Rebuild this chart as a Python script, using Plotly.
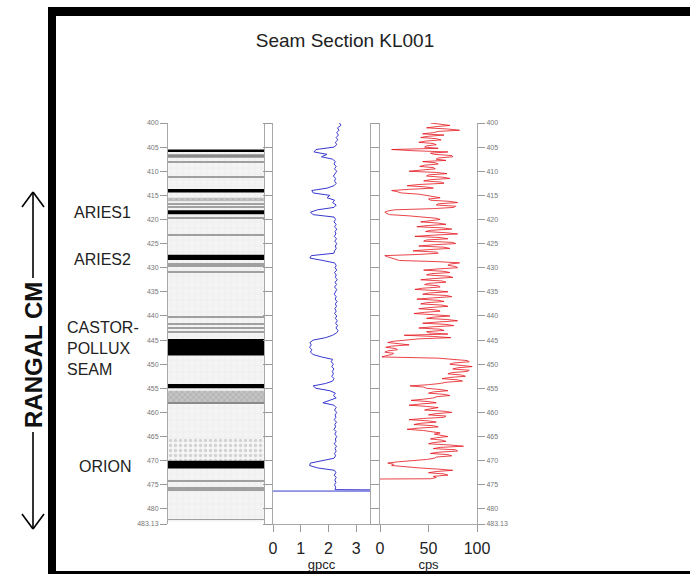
import plotly.graph_objects as go

W, H = 690, 574


def px(x):
    return x / W


def py(y):
    return 1 - y / H


FONT = "Liberation Sans, Arial, sans-serif"

# ---------------- data ----------------
DEPTH_TOP, DEPTH_BASE = 400.0, 483.13
DEPTH_TICKS = [400, 405, 410, 415, 420, 425, 430, 435, 440, 445, 450, 455,
               460, 465, 470, 475, 480, 483.13]
DEPTH_TICK_TEXT = ["400", "405", "410", "415", "420", "425", "430", "435", "440",
                   "445", "450", "455", "460", "465", "470", "475", "480", "483.13"]

# lithology intervals (top, base, type)
LITH_TOP = [405.5, 406.0, 406.5, 407.2, 413.7, 414.4, 415.5, 416.2, 418.1, 418.9,
            427.3, 428.4, 444.8, 448.2, 454.1, 455.0, 455.5, 457.9, 458.2, 465.5,
            470.0, 471.6]
LITH_BASE = [406.0, 406.5, 407.2, 413.7, 414.4, 415.5, 416.2, 418.1, 418.9, 427.3,
             428.4, 444.8, 448.2, 454.1, 455.0, 455.5, 457.9, 458.2, 465.5, 470.0,
             471.6, 482.6]
LITH_TYPE = ["coal", "shale", "stone", "shale", "coal", "shale", "band", "shale",
             "coal", "shale", "coal", "shale", "coal", "shale", "coal", "shale",
             "band", "stone", "shale", "sand", "coal", "shale"]
PARTING_DEPTHS = [408.0, 411.1, 416.8, 417.4, 419.6, 423.3, 429.2, 429.6, 430.9,
                  440.3, 441.6, 442.5, 443.4, 474.2, 475.7, 476.1, 482.2]
PARTING_THICKNESS = 0.2

# density log (gpcc), sampled every 0.5 m from 400 m
DENSITY_START, DENSITY_STEP = 400.0, 0.5
DENSITY_GPCC = [
    2.40, 2.45, 2.33, 2.38, 2.30, 2.36, 2.28, 2.34, 2.25, 2.30,
    2.20, 1.55, 1.48, 1.95, 1.75, 2.15, 2.25, 2.20, 2.28, 2.22,
    2.30, 2.24, 2.18, 2.26, 2.22, 2.28, 2.20, 1.95, 1.40, 1.45,
    2.05, 1.95, 2.22, 2.15, 2.28, 2.20, 1.60, 1.35, 1.45, 2.20,
    2.26, 2.20, 2.28, 2.22, 2.30, 2.24, 2.27, 2.21, 2.29, 2.23,
    2.30, 2.25, 2.28, 2.22, 2.20, 1.38, 1.33, 1.80, 2.22, 2.28,
    2.24, 2.30, 2.22, 2.28, 2.25, 2.32, 2.24, 2.29, 2.22, 2.30,
    2.26, 2.21, 2.28, 2.24, 2.31, 2.25, 2.29, 2.23, 2.28, 2.22,
    2.30, 2.25, 2.32, 2.26, 2.33, 2.27, 2.35, 2.30, 2.15, 1.90,
    1.45, 1.33, 1.38, 1.32, 1.40, 1.35, 1.45, 1.75, 2.15, 2.10,
    2.18, 2.12, 2.20, 2.14, 2.18, 2.12, 2.20, 2.15, 1.90, 1.45,
    1.55, 2.05, 2.25, 2.18, 2.28, 2.05, 1.80, 2.20, 2.28, 2.22,
    2.30, 2.24, 2.27, 2.21, 2.29, 2.23, 2.26, 2.20, 2.28, 2.23,
    2.30, 2.25, 2.27, 2.21, 2.29, 2.24, 2.28, 2.22, 2.26, 2.20,
    1.70, 1.35, 1.32, 1.60, 2.22, 2.27, 2.21, 2.28, 2.23, 2.27,
    2.22, 2.26, 2.24,
]
DENSITY_END_DEPTH = 476.3
DENSITY_END_VALUES = [9.0, -1.0]   # log terminates with a line across the track

# gamma log (cps), sampled every 0.25 m from 400 m (one row per metre)
GAMMA_START, GAMMA_STEP = 400.0, 0.25
GAMMA_CPS = [
    52, 66, 72, 58,  48, 70, 82, 60,  55, 44, 66, 50,  42, 58, 63, 47,  # 400-403
    40, 55, 58, 48,  46, 60, 12, 35,  70, 52, 56, 74,  75, 60, 58, 68,  # 404-407
    44, 57, 60, 46,  41, 55, 57, 43,  30, 58, 69, 50,  48, 65, 72, 52,  # 408-411
    45, 63, 66, 40,  28, 47, 55, 30,  12, 18, 22, 40,  48, 58, 62, 50,  # 412-415
    52, 72, 80, 60,  58, 78, 76, 55,  15, 8, 5, 7,     10, 30, 45, 58,  # 416-419
    62, 48, 42, 60,  68, 50, 38, 65,  74, 52, 47, 68,  80, 55, 36, 62,  # 420-423
    70, 48, 45, 75,  78, 55, 40, 66,  72, 50, 34, 58,  60, 40, 5, 8,    # 424-427
    12, 16, 20, 60,  82, 72, 70, 78,  80, 60, 45, 66,  72, 52, 48, 70,  # 428-431
    75, 55, 42, 64,  68, 50, 46, 60,  62, 44, 36, 58,  70, 50, 44, 68,  # 432-435
    74, 55, 38, 60,  66, 48, 42, 64,  70, 52, 40, 58,  62, 46, 35, 56,  # 436-439
    72, 55, 48, 70,  80, 60, 44, 68,  76, 55, 40, 62,  66, 48, 50, 70,  # 440-443
    25, 55, 73, 40,  22, 14, 8, 20,   30, 12, 6, 16,   18, 8, 5, 14,    # 444-447
    12, 6, 2, 60,    80, 90, 92, 76,  72, 88, 95, 80,  75, 92, 90, 74,  # 448-451
    70, 84, 88, 72,  64, 80, 85, 68,  62, 50, 31, 45,  48, 62, 70, 55,  # 452-455
    50, 66, 72, 58,  55, 45, 32, 50,  58, 42, 30, 48,  60, 52, 46, 66,  # 456-459
    74, 58, 50, 68,  66, 45, 30, 50,  58, 42, 35, 55,  60, 40, 28, 45,  # 460-463
    52, 62, 56, 66,  70, 58, 52, 64,  68, 55, 50, 72,  86, 62, 55, 78,  # 464-467
    80, 60, 52, 70,  74, 58, 56, 48,  30, 18, 8, 14,   12, 25, 40, 60,  # 468-471
    75, 58, 50, 66,  70, 55, 58, 52,                                    # 472-473
]
GAMMA_END_DEPTH = 473.8
GAMMA_END_VALUE = 0

DENSITY_TICKS = [0, 1, 2, 3]
DENSITY_RANGE = [0, 3.5]
GAMMA_TICKS = [0, 50, 100]
GAMMA_RANGE = [0, 100]

SEAM_LABELS = ["ARIES1", "ARIES2", "ORION"]
SEAM_DEPTHS = [418.5, 428.3, 471.2]
CASTOR_LABEL = "CASTOR-<br>POLLUX<br>SEAM"
CASTOR_DEPTH = 446.7

TITLE = "Seam Section KL001"
SIDE_LABEL = "RANGAL CM"

# ---------------- styles ----------------
LITH_STYLE = {
    "shale": dict(color="#f2f2f2", pattern=dict(shape="+", fgcolor="#d8d8d8",
                                                  bgcolor="#f4f4f4", size=6, solidity=0.12)),
    "sand": dict(color="#f4f4f4", pattern=dict(shape=".", fgcolor="#b0b0b0",
                                                 bgcolor="#f5f5f5", size=5, solidity=0.35)),
    "band": dict(color="#b5b5b5", pattern=dict(shape="x", fgcolor="#8a8a8a",
                                                 bgcolor="#c4c4c4", size=4, solidity=0.3)),
    "stone": dict(color="#8a8a8a", pattern=dict(shape="")),
    "coal": dict(color="#000000", pattern=dict(shape="")),
}

fig = go.Figure()

for ltype in ["shale", "sand", "band", "stone", "coal"]:
    tops = [t for t, k in zip(LITH_TOP, LITH_TYPE) if k == ltype]
    bases = [b for b, k in zip(LITH_BASE, LITH_TYPE) if k == ltype]
    st = LITH_STYLE[ltype]
    fig.add_trace(go.Bar(
        orientation="h",
        y=[(t + b) / 2 for t, b in zip(tops, bases)],
        width=[b - t for t, b in zip(tops, bases)],
        x=[1] * len(tops), base=0,
        marker=dict(color=st["color"], line=dict(width=0), pattern=st["pattern"]),
        xaxis="x", yaxis="y", hoverinfo="skip",
    ))

fig.add_trace(go.Bar(
    orientation="h",
    y=PARTING_DEPTHS,
    width=[PARTING_THICKNESS] * len(PARTING_DEPTHS),
    x=[1] * len(PARTING_DEPTHS), base=0,
    marker=dict(color="#a0a0a0", line=dict(width=0)),
    xaxis="x", yaxis="y", hoverinfo="skip",
))

dens_depth = [DENSITY_START + DENSITY_STEP * i for i in range(len(DENSITY_GPCC))]
dens_depth += [DENSITY_END_DEPTH] * len(DENSITY_END_VALUES)
dens_vals = DENSITY_GPCC + DENSITY_END_VALUES
fig.add_trace(go.Scatter(
    x=dens_vals, y=dens_depth, mode="lines",
    line=dict(color="#3838d0", width=1),
    xaxis="x2", yaxis="y2", hoverinfo="skip",
))

gam_depth = [GAMMA_START + GAMMA_STEP * i for i in range(len(GAMMA_CPS))] + [GAMMA_END_DEPTH]
gam_vals = GAMMA_CPS + [GAMMA_END_VALUE]
fig.add_trace(go.Scatter(
    x=gam_vals, y=gam_depth, mode="lines",
    line=dict(color="#e3141c", width=0.8),
    xaxis="x3", yaxis="y3", hoverinfo="skip",
))

# ---------------- axes ----------------
ydom = [py(524), py(123)]
AX_LINE = "#a8a8a8"
common_y = dict(domain=ydom, range=[DEPTH_BASE, DEPTH_TOP], showgrid=False, zeroline=False,
                showline=True, linecolor=AX_LINE, linewidth=1, ticks="outside",
                tickcolor="#9a9a9a", tickwidth=1, tickvals=DEPTH_TICKS, ticktext=DEPTH_TICK_TEXT,
                tickfont=dict(size=7, color="#777777", family=FONT), mirror="ticks",
                fixedrange=True, automargin=False)
common_x = dict(ticks="outside", ticklen=7, tickcolor="#9a9a9a",
                tickfont=dict(size=16, color="#222222"), showline=True, linecolor=AX_LINE,
                showgrid=False, zeroline=False, ticklabelstandoff=3,
                fixedrange=True, automargin=False)

fig.update_layout(
    width=W, height=H, autosize=False,
    margin=dict(l=0, r=0, t=0, b=0, pad=0, autoexpand=False),
    paper_bgcolor="white", plot_bgcolor="white",
    showlegend=False, barmode="overlay",
    font=dict(family=FONT, color="#222222"),
    title=dict(text=TITLE, x=px(345), xanchor="center", y=py(40), yanchor="middle",
               font=dict(size=19, color="#222222", family=FONT)),
    xaxis=dict(domain=[px(168), px(264)], range=[0, 1], visible=False, fixedrange=True,
               automargin=False),
    yaxis=dict(anchor="x", ticklen=7, **common_y),
    xaxis2=dict(domain=[px(273), px(370)], range=DENSITY_RANGE, anchor="y2",
                tickvals=DENSITY_TICKS,
                title=dict(text="gpcc", font=dict(size=13, color="#222222"), standoff=0),
                **common_x),
    yaxis2=dict(anchor="x2", matches="y", showticklabels=False, ticklen=9, **common_y),
    xaxis3=dict(domain=[px(380), px(477)], range=GAMMA_RANGE, anchor="y3",
                tickvals=GAMMA_TICKS,
                title=dict(text="cps", font=dict(size=13, color="#222222"), standoff=0),
                **common_x),
    yaxis3=dict(anchor="x3", matches="y", side="right", ticklen=7, **common_y),
)

# ---------------- annotations ----------------
for name, d in zip(SEAM_LABELS, SEAM_DEPTHS):
    fig.add_annotation(text=name, xref="paper", yref="y", x=px(133), y=d,
                       xanchor="right", yanchor="middle", showarrow=False,
                       font=dict(size=16, color="#222222"))
fig.add_annotation(text=CASTOR_LABEL, xref="paper", yref="y", x=px(65), y=CASTOR_DEPTH,
                   xanchor="left", yanchor="middle", align="left", showarrow=False,
                   font=dict(size=16, color="#222222"))

fig.add_annotation(text="<b>" + SIDE_LABEL + "</b>", xref="paper", yref="paper",
                   x=px(33), y=py(355), textangle=-90, showarrow=False,
                   xanchor="center", yanchor="middle",
                   font=dict(size=24, color="#111111"))

# ---------------- decorations: frame and arrows ----------------
shapes = [
    dict(type="rect", xref="paper", yref="paper", x0=px(48), x1=1.0, y0=py(16), y1=py(7),
         fillcolor="black", line=dict(width=0)),
    dict(type="rect", xref="paper", yref="paper", x0=px(48), x1=px(56), y0=0, y1=py(7),
         fillcolor="black", line=dict(width=0)),
    dict(type="rect", xref="paper", yref="paper", x0=px(48), x1=1.0, y0=0, y1=py(571),
         fillcolor="black", line=dict(width=0)),
]


def seg(x0, y0, x1, y1):
    return dict(type="line", xref="paper", yref="paper", x0=px(x0), y0=py(y0),
                x1=px(x1), y1=py(y1), line=dict(color="black", width=1.6))


shapes += [
    seg(33, 192, 33, 278),
    seg(22, 207, 33, 192), seg(44, 207, 33, 192),
    seg(33, 432, 33, 529),
    seg(22, 514, 33, 529), seg(44, 514, 33, 529),
]
fig.update_layout(shapes=shapes)

fig.write_html(
    "out.html",
    config={"responsive": False, "displayModeBar": False},
    post_script="document.body.style.margin='0';document.body.style.overflow='hidden';",
)
